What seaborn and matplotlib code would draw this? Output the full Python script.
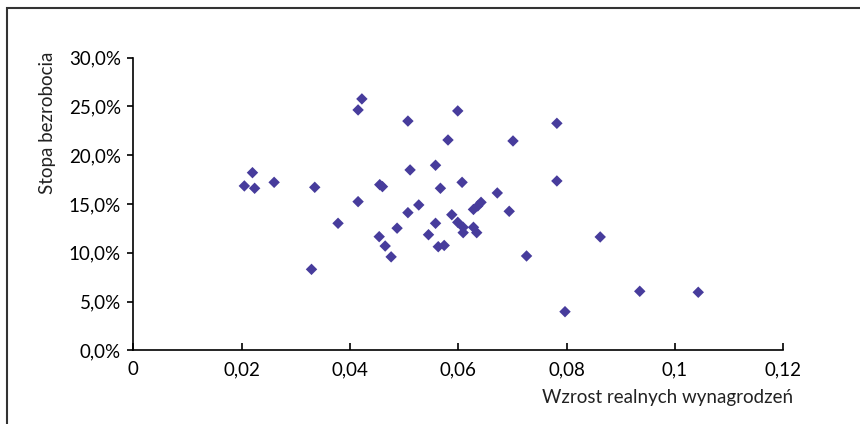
import matplotlib
matplotlib.use("Agg")
import matplotlib.pyplot as plt
from matplotlib.patches import Rectangle
from matplotlib.ticker import FuncFormatter, FixedLocator
import seaborn as sns
import pandas as pd

# Real wage growth (share) vs. unemployment rate (%)
wage_growth = [
    0.0205, 0.0220, 0.0224, 0.0260, 0.0329, 0.0335, 0.0378, 0.0415,
    0.0415, 0.0422, 0.0454, 0.0455, 0.0460, 0.0465, 0.0476, 0.0487,
    0.0507, 0.0507, 0.0511, 0.0527, 0.0545, 0.0558, 0.0558, 0.0563,
    0.0567, 0.0574, 0.0581, 0.0588, 0.0599, 0.0599, 0.0607, 0.0609,
    0.0609, 0.0628, 0.0634, 0.0628, 0.0636, 0.0642, 0.0672, 0.0694,
    0.0701, 0.0726, 0.0782, 0.0782, 0.0797, 0.0862, 0.0935, 0.1043,
]
unemployment = [
    16.85, 18.21, 16.61, 17.22, 8.30, 16.71, 13.02, 15.24,
    24.64, 25.77, 11.65, 16.98, 16.78, 10.69, 9.58, 12.52,
    14.11, 23.50, 18.49, 14.90, 11.85, 13.02, 18.97, 10.62,
    16.61, 10.75, 21.56, 13.90, 13.12, 24.54, 17.22, 12.61,
    12.06, 12.61, 12.06, 14.44, 14.80, 15.17, 16.13, 14.25,
    21.46, 9.67, 23.27, 17.36, 3.96, 11.62, 6.05, 5.95,
]
x_ticks = [0, 0.02, 0.04, 0.06, 0.08, 0.1, 0.12]
x_tick_labels = ["0", "0,02", "0,04", "0,06", "0,08", "0,1", "0,12"]
y_ticks = [0, 5, 10, 15, 20, 25, 30]

df = pd.DataFrame({"wzrost": wage_growth, "stopa": unemployment})

sns.set_theme(style="white")
plt.rcParams["font.family"] = ["Lato", "DejaVu Sans"]

fig = plt.figure(figsize=(8.6, 4.24), dpi=100)
ax = fig.add_axes([0.155, 0.1738, 0.7558, 0.6902])

sns.scatterplot(data=df, x="wzrost", y="stopa", ax=ax, marker="D",
                color="#473C9C", edgecolor="none", linewidth=0, s=34)

ax.set_xlim(0, 0.12)
ax.set_ylim(0, 30)
ax.xaxis.set_major_locator(FixedLocator(x_ticks))
ax.set_xticklabels(x_tick_labels)
ax.yaxis.set_major_locator(FixedLocator(y_ticks))
ax.yaxis.set_major_formatter(FuncFormatter(lambda v, p: f"{v:.1f}%".replace(".", ",")))

for side in ("top", "right"):
    ax.spines[side].set_visible(False)
for side in ("left", "bottom"):
    ax.spines[side].set_color("black")
    ax.spines[side].set_linewidth(1.2)

ax.tick_params(axis="x", direction="in", length=5, width=1.2, pad=8,
               labelsize=13.5, colors="black", bottom=True)
ax.tick_params(axis="y", direction="out", length=4, width=1.2, pad=5,
               labelsize=13.5, colors="black", left=True)
ax.set_xlabel("")
ax.set_ylabel("")

fig.text(793 / 860, 1 - 397 / 424, "Wzrost realnych wynagrodzeń",
         ha="right", va="center", fontsize=13.5, color="#222222")
fig.text(48 / 860, 1 - 123 / 424, "Stopa bezrobocia", rotation=90,
         ha="center", va="center", fontsize=13.5, color="#222222")

# Outer frame around the chart area
fig.patches.append(Rectangle((7 / 860, -0.1), 1.2, 1.1 - 8 / 424,
                             transform=fig.transFigure, fill=False,
                             edgecolor="#333333", linewidth=1.5))

fig.savefig("out.png", dpi=100)
